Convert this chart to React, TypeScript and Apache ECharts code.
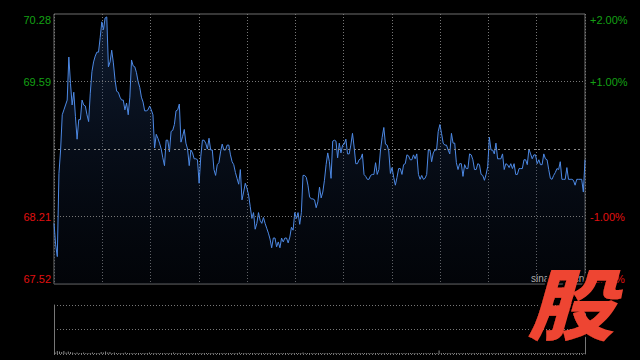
import React, { useEffect, useRef } from 'react';
import * as echarts from 'echarts';

const PREV_CLOSE = 68.9;
const PRICE_MIN = 67.52;
const PRICE_MAX = 70.28;
const LEFT_TICK_LABELS = ['67.52', '68.21', '', '69.59', '70.28'];
const RIGHT_TICK_LABELS = ['-2.00%', '-1.00%', '', '+1.00%', '+2.00%'];
const GRID_PRICES = [69.59, 68.21];

const PRICES = [
  68.14, 67.92, 67.80, 68.65, 68.89, 69.25, 69.30, 69.35, 69.40, 69.84,
  69.57, 69.35, 69.48, 69.23, 69.00, 69.20, 69.20, 69.40, 69.35, 69.34,
  69.25, 69.18, 69.47, 69.69, 69.79, 69.85, 69.89, 69.89, 70.04, 70.20,
  70.12, 70.24, 70.25, 69.74, 69.79, 69.91, 69.78, 69.61, 69.49, 69.48,
  69.43, 69.40, 69.40, 69.30, 69.37, 69.25, 69.43, 69.81, 69.75, 69.74,
  69.68, 69.59, 69.53, 69.43, 69.38, 69.29, 69.29, 69.30, 69.34, 69.30,
  69.25, 68.91, 69.05, 69.01, 68.96, 68.90, 68.81, 68.73, 68.99, 68.99,
  68.87, 69.08, 69.09, 69.15, 69.29, 69.30, 69.36, 68.97, 69.03, 69.10,
  68.96, 68.90, 68.73, 68.89, 68.86, 68.80, 68.80, 68.79, 68.55, 68.82,
  68.99, 68.99, 68.96, 68.90, 69.01, 68.89, 68.89, 68.69, 68.63, 68.74,
  68.76, 68.87, 68.95, 68.89, 68.89, 68.94, 68.94,
  68.84, 68.77, 68.74, 68.66, 68.60, 68.54, 68.69, 68.38, 68.46, 68.55,
  68.50, 68.43, 68.31, 68.19, 68.25, 68.08, 68.14, 68.25, 68.17, 68.14,
  68.20, 68.14, 68.09, 68.04, 67.98, 67.89, 67.99, 67.99, 67.90, 67.95,
  67.89, 67.99, 67.95, 67.99, 67.99, 67.94, 68.00, 68.10, 68.07, 68.25,
  68.19, 68.25, 68.13, 68.25, 68.63, 68.63, 68.61, 68.53, 68.41, 68.39,
  68.39, 68.38, 68.30, 68.36, 68.51, 68.40, 68.46, 68.58, 68.74, 68.86,
  68.77, 68.60, 68.98, 68.99, 68.98, 68.81, 68.96, 68.86, 68.94, 68.95,
  69.00, 68.85, 68.85, 68.94, 69.06, 68.92, 68.75, 68.75, 68.79, 68.80,
  68.85, 68.64, 68.62, 68.59, 68.59, 68.63, 68.64, 68.64, 68.76, 68.64,
  68.69, 68.89, 69.02, 69.12, 68.95, 68.94, 68.88, 68.65, 68.71, 68.61,
  68.53, 68.61, 68.70, 68.70,
  68.64, 68.74, 68.75, 68.84, 68.83, 68.79, 68.79, 68.84, 68.80, 68.85,
  68.64, 68.59, 68.63, 68.59, 68.60, 68.64, 68.89, 68.89, 68.77, 68.86,
  68.89, 68.89, 69.08, 69.15, 69.06, 68.96, 68.94, 68.94, 68.89, 68.85,
  69.06, 68.96, 68.96, 68.76, 68.69, 68.75, 68.75, 68.62, 68.74, 68.70,
  68.70, 68.85, 68.84, 68.79, 68.69, 68.69, 68.75, 68.74, 68.64, 68.63,
  68.58, 68.64, 68.72, 69.02, 68.89, 68.89, 68.85, 68.96, 68.80, 68.80,
  68.80, 68.85, 68.69, 68.75, 68.74, 68.71, 68.75, 68.70, 68.75, 68.64,
  68.64, 68.70, 68.70, 68.70, 68.79, 68.79, 68.74, 68.90, 68.85, 68.80,
  68.84, 68.84, 68.75, 68.79, 68.74, 68.74, 68.85, 68.80, 68.79, 68.69,
  68.60, 68.59, 68.63, 68.66, 68.70, 68.69, 68.77, 68.59, 68.59, 68.59,
  68.71, 68.59, 68.59, 68.59, 68.58, 68.53, 68.59, 68.59, 68.59, 68.59,
  68.46, 68.79,
];

const VOLUMES = [
  3, 6, 5, 4, 6, 3, 5, 4, 3, 2, 3, 2, 2, 3, 2, 2, 2, 3, 2, 2,
  2, 4, 3, 5, 3, 4, 2, 3, 2, 2, 2, 2, 3, 2, 2, 2, 2, 2, 2, 2,
  2, 2, 2, 3, 2, 2, 2, 2, 2, 2, 2, 2, 2, 2, 3, 2, 2, 2, 2, 2,
  2, 2, 2, 2, 2, 2, 2, 2, 2, 2, 2, 2, 2, 2, 2, 2, 2, 2, 2, 2,
  2, 2, 2, 2, 3, 2, 2, 2, 2, 2, 2, 2, 2, 2, 2, 2, 2, 2, 2, 2,
  2, 2, 2, 2, 2, 2, 2, 2, 2, 2, 2, 2, 2, 3, 2, 2, 2, 2, 2, 2,
  2, 2, 2, 2, 2, 2, 2, 2, 2, 2, 2, 2, 2, 2, 2, 2, 2, 2, 2, 2,
  2, 2, 2, 2, 2, 2, 2, 2, 2, 2, 2, 2, 2, 2, 2, 2, 2, 2, 2, 2,
  2, 2, 2, 2, 2, 2, 2, 2, 2, 2, 2, 2, 2, 2, 2, 7, 2, 2, 2, 2,
  2, 2, 2, 2, 2, 2, 2, 2, 2, 2, 2, 2, 2, 2, 2, 2, 2, 2, 2, 2,
  2, 2, 2, 2, 2, 2, 2, 2, 2, 2, 2, 2, 2, 2, 2, 2, 2, 2, 2, 2,
  2, 2, 2, 2, 2, 2, 2, 2, 2, 2, 2, 2, 2, 2, 2, 2, 2, 2, 2, 2,
  2, 2,
];

const GREEN = '#14a014';
const RED = '#e01010';
const GRID_COLOR = '#777777';
const FONT = '"Liberation Sans", Arial, sans-serif';

export default function App() {
  const ref = useRef<HTMLDivElement>(null);

  useEffect(() => {
    document.body.style.margin = '0';
    document.body.style.background = '#000';
    if (!ref.current) return;
    const chart = echarts.init(ref.current, null, { renderer: 'svg' });

    const priceCats = PRICES.map((_, i) => i);
    const volCats = VOLUMES.map((_, i) => i);
    const labelColor = (v: any) => {
      const n = Number(v);
      return n > 0 ? GREEN : n < 0 ? RED : '#cccccc';
    };

    const option: any = {
      animation: false,
      backgroundColor: '#000000',
      grid: [
        { left: 54, right: 55, top: 14, height: 270, show: true, borderColor: '#6e6e6e', borderWidth: 1, backgroundColor: 'transparent' },
        { left: 54, right: 55, top: 305, height: 49 },
      ],
      xAxis: [
        { type: 'category', gridIndex: 0, data: priceCats, boundaryGap: false, show: false },
        {
          type: 'value', gridIndex: 0, min: 0, max: 11, interval: 1,
          axisLine: { show: false }, axisTick: { show: false }, axisLabel: { show: false },
          splitLine: { show: true, lineStyle: { color: GRID_COLOR, type: [1, 2], width: 1 } },
        },
        { type: 'category', gridIndex: 1, data: volCats, show: false },
      ],
      yAxis: [
        { type: 'value', gridIndex: 0, min: PRICE_MIN, max: PRICE_MAX, show: false, splitLine: { show: false } },
        {
          type: 'value', gridIndex: 0, position: 'left', min: -2, max: 2, interval: 1,
          axisLine: { show: false }, axisTick: { show: false }, splitLine: { show: false },
          axisLabel: {
            margin: 3, fontSize: 11, fontFamily: FONT, color: labelColor,
            formatter: (v: number) => LEFT_TICK_LABELS[Math.round(v) + 2],
            verticalAlignMinLabel: 'bottom', verticalAlignMaxLabel: 'top',
          },
        },
        {
          type: 'value', gridIndex: 0, position: 'right', min: -2, max: 2, interval: 1,
          axisLine: { show: false }, axisTick: { show: false }, splitLine: { show: false },
          axisLabel: {
            margin: 5, fontSize: 11, fontFamily: FONT, color: labelColor,
            formatter: (v: number) => RIGHT_TICK_LABELS[Math.round(v) + 2],
            verticalAlignMinLabel: 'bottom', verticalAlignMaxLabel: 'top',
          },
        },
        {
          type: 'value', gridIndex: 1, min: 0, max: 100, interval: 50,
          axisLine: { show: true, lineStyle: { color: GRID_COLOR } },
          axisTick: { show: false }, axisLabel: { show: false },
          splitLine: { show: true, lineStyle: { color: GRID_COLOR, type: [1, 2], width: 1 } },
        },
        {
          type: 'value', gridIndex: 1, position: 'right', min: 0, max: 100,
          axisLine: { show: true, lineStyle: { color: GRID_COLOR } },
          axisTick: { show: false }, axisLabel: { show: false }, splitLine: { show: false },
        },
      ],
      series: [
        {
          type: 'line', xAxisIndex: 0, yAxisIndex: 0, data: PRICES, symbol: 'none',
          lineStyle: { color: '#4d89e4', width: 1 },
          areaStyle: {
            color: new echarts.graphic.LinearGradient(0, 0, 0, 1, [
              { offset: 0, color: 'rgba(35,65,115,0.6)' },
              { offset: 1, color: 'rgba(10,20,40,0.3)' },
            ]),
          },
          markLine: {
            silent: true, symbol: ['none', 'none'], label: { show: false },
            data: [
              ...GRID_PRICES.map((p) => ({ yAxis: p, lineStyle: { color: GRID_COLOR, type: [1, 2], width: 1 } })),
              { yAxis: PREV_CLOSE, lineStyle: { color: '#8a8a8a', type: [2, 2, 2, 4], width: 1 } },
            ],
          },
        },
        {
          type: 'bar', xAxisIndex: 2, yAxisIndex: 3, data: VOLUMES, barWidth: 1,
          itemStyle: { color: '#8a8a8a' },
        },
      ],
      graphic: [
        {
          type: 'text', x: 531, y: 278, z: 90,
          style: { text: 'sina.com.cn', fontSize: 10, fontFamily: FONT, fill: '#aaaaaa', align: 'left', verticalAlign: 'middle' },
        },
        {
          type: 'text', x: 571, y: 300, z: 100, scaleX: 1.12,
          style: {
            text: '股', fontSize: 78, fontWeight: 900, fontStyle: 'italic',
            fontFamily: '"Noto Sans CJK SC", sans-serif', fill: '#ee4530',
            align: 'center', verticalAlign: 'middle',
            textShadowColor: 'rgba(0,0,0,0.9)', textShadowOffsetX: -3, textShadowOffsetY: 2, textShadowBlur: 1,
          },
        },
      ],
    };

    chart.setOption(option);
    return () => chart.dispose();
  }, []);

  return <div ref={ref} style={{ position: 'absolute', left: 0, top: 0, width: 640, height: 360 }} />;
}
